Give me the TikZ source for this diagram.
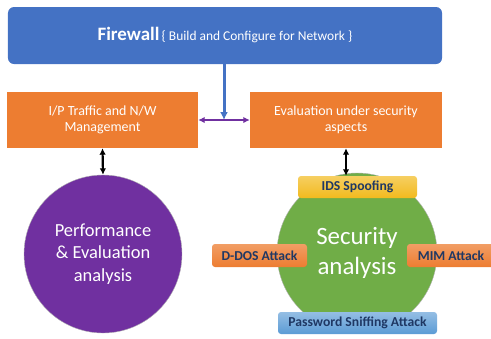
\documentclass[tikz,border=0pt]{standalone}
\usepackage{fontspec}
\setmainfont{Carlito}
\usetikzlibrary{arrows.meta, calc}
\definecolor{fwblue}{HTML}{4472C4}
\definecolor{boxorange}{HTML}{ED7D31}
\definecolor{perfpurple}{HTML}{7030A0}
\definecolor{secgreen}{HTML}{70AD47}
\definecolor{navytext}{HTML}{1F3864}
\definecolor{idsyellow}{HTML}{F2BA1E}
\definecolor{pwdblue}{HTML}{5B9BD5}
\tikzset{
	mainbox/.style={rectangle, fill=boxorange, text=white, align=center, minimum width=191bp, minimum height=56bp, font=\fontsize{14}{16.5}\selectfont},
	bigcircle/.style={circle, draw=gray!60, thin, text=white, align=center, inner sep=0pt},
	attackbox/.style={rectangle, rounded corners=3bp, text=navytext, font=\fontsize{13.7}{15}\selectfont\bfseries, minimum height=22bp, inner sep=0pt},
	link/.style={line width=2.2bp, {Latex[length=6.5bp,width=6.5bp]}-{Latex[length=6.5bp,width=6.5bp]}}
}
\begin{document}
\begin{tikzpicture}[x=1bp, y=-1bp]
		\useasboundingbox (0, 0) rectangle (491, 338);
		\clip (0, 0) rectangle (491, 338);
		% firewall header
		\node[rectangle, rounded corners=6bp, fill=fwblue, text=white, minimum width=434bp, minimum height=57bp] (fw) at (225, 35.5)
			{{\fontsize{19}{22}\selectfont\bfseries Firewall} {\fontsize{13.5}{16}\selectfont \{ Build and Configure for Network \}}};
		% the two tasks
		\node[mainbox] (ipt) at (102.5, 120) {I/P Traffic and N/W\\Management};
		\node[mainbox, minimum width=192bp] (eva) at (346, 120) {Evaluation under security\\aspects};
		% the two analyses
		\node[bigcircle, fill=perfpurple, minimum size=158bp, font=\fontsize{18.5}{22.5}\selectfont] (perf) at (103, 254) {Performance\\\& Evaluation\\analysis};
		\node[bigcircle, fill=secgreen, minimum size=160bp, font=\fontsize{25}{30}\selectfont] (sec) at (357, 253) {Security\\analysis};
		% attacks round the security analysis
		\node[attackbox, top color=idsyellow!70!white, bottom color=idsyellow, minimum width=119bp] (ids) at (357.5, 187) {IDS Spoofing};
		\node[attackbox, top color=boxorange!75, bottom color=boxorange, minimum width=95bp, minimum height=23bp] (ddos) at (259.5, 255.5) {D-DOS Attack};
		\node[attackbox, top color=boxorange!75, bottom color=boxorange, minimum width=88bp, minimum height=23bp] (mim) at (451, 255.5) {MIM Attack};
		\node[attackbox, top color=pwdblue!65, bottom color=pwdblue, minimum width=159bp] (pwd) at (357.5, 323) {Password Sniffing Attack};
		% connectors
		\coordinate (mid) at ($(ipt.east)!0.5!(eva.west)$);
		\draw[fwblue, line width=3bp, -{Latex[length=8bp,width=8bp]}] (fw.south -| mid) -- (mid);
		\draw[link, perfpurple] (ipt.east) -- (eva.west);
		\draw[link] (ipt.south) -- (perf.north);
		\draw[link] (eva.south) -- (eva.south |- ids.north);
	\end{tikzpicture}
\end{document}
